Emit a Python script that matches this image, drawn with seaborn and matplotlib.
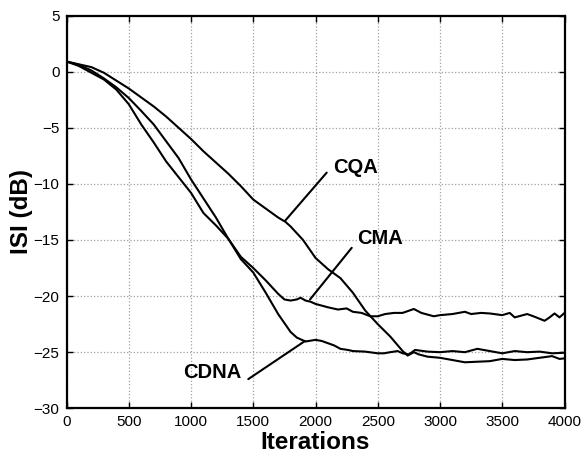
import matplotlib
matplotlib.use("Agg")
import matplotlib.pyplot as plt
import pandas as pd
import seaborn as sns

# ISI convergence curves
cqa_iter = [0, 100, 200, 300, 400, 500, 600, 700, 800, 900, 1000, 1100, 1200,
            1300, 1400, 1500, 1600, 1700, 1760, 1800, 1900, 2000, 2100, 2200,
            2300, 2400, 2500, 2600, 2700, 2740, 2790, 2830, 2900, 3000, 3100,
            3200, 3300, 3400, 3500, 3600, 3700, 3800, 3900, 3960, 4000]
cqa_isi = [0.9, 0.65, 0.4, -0.1, -0.8, -1.5, -2.3, -3.1, -4.0, -5.0, -6.0, -7.1,
           -8.1, -9.1, -10.2, -11.4, -12.2, -13.0, -13.4, -13.8, -15.0, -16.6,
           -17.6, -18.4, -19.7, -21.3, -22.5, -23.6, -24.9, -25.3, -25.0,
           -25.2, -25.4, -25.5, -25.7, -25.9, -25.85, -25.8, -25.6, -25.7,
           -25.65, -25.5, -25.35, -25.6, -25.55]

cma_iter = [0, 100, 200, 300, 400, 500, 600, 700, 800, 900, 1000, 1100, 1200,
            1300, 1400, 1500, 1600, 1700, 1750, 1800, 1850, 1880, 1920, 1960,
            2000, 2100, 2180, 2250, 2300, 2370, 2440, 2500, 2560, 2630, 2700,
            2790, 2850, 2950, 3000, 3100, 3200, 3250, 3330, 3400, 3500, 3560,
            3600, 3700, 3750, 3840, 3880, 3920, 3960, 4000]
cma_isi = [0.9, 0.5, -0.1, -0.7, -1.6, -2.9, -4.7, -6.3, -8.0, -9.4, -10.8,
           -12.6, -13.7, -14.9, -16.5, -17.5, -18.6, -19.8, -20.3, -20.4,
           -20.3, -20.15, -20.4, -20.5, -20.7, -21.0, -21.2, -21.1, -21.4,
           -21.5, -21.8, -21.8, -21.6, -21.5, -21.5, -21.15, -21.5, -21.8,
           -21.7, -21.6, -21.4, -21.6, -21.5, -21.55, -21.7, -21.5, -21.9,
           -21.6, -21.8, -22.2, -21.9, -21.55, -21.9, -21.5]

cdna_iter = [0, 100, 200, 300, 400, 500, 600, 700, 800, 900, 1000, 1100, 1200,
             1300, 1400, 1500, 1600, 1700, 1800, 1850, 1920, 2000, 2050, 2100,
             2150, 2200, 2260, 2300, 2400, 2500, 2550, 2600, 2660, 2700, 2750,
             2800, 2900, 3000, 3100, 3200, 3300, 3400, 3500, 3600, 3700, 3800,
             3900, 4000]
cdna_isi = [0.9, 0.6, 0.1, -0.6, -1.4, -2.35, -3.5, -4.7, -6.2, -7.7, -9.6,
            -11.3, -13.0, -14.9, -16.7, -17.9, -19.7, -21.6, -23.2, -23.7,
            -24.05, -23.9, -24.0, -24.2, -24.4, -24.7, -24.8, -24.9, -24.95,
            -25.1, -25.1, -25.0, -24.9, -25.1, -25.2, -24.8, -24.95, -25.0,
            -24.9, -25.0, -24.7, -24.9, -25.1, -24.9, -25.0, -24.95, -25.1,
            -25.05]

x_ticks = [0, 500, 1000, 1500, 2000, 2500, 3000, 3500, 4000]
y_ticks = [5, 0, -5, -10, -15, -20, -25, -30]

sns.set_theme(style="ticks")
plt.rcParams["font.family"] = ["Liberation Sans", "DejaVu Sans"]
plt.rcParams["text.color"] = "black"
plt.rcParams["axes.labelcolor"] = "black"
plt.rcParams["xtick.color"] = "black"
plt.rcParams["ytick.color"] = "black"

df = pd.concat([
    pd.DataFrame({"iter": cqa_iter, "isi": cqa_isi, "alg": "CQA"}),
    pd.DataFrame({"iter": cma_iter, "isi": cma_isi, "alg": "CMA"}),
    pd.DataFrame({"iter": cdna_iter, "isi": cdna_isi, "alg": "CDNA"}),
])

fig = plt.figure(figsize=(5.82, 4.54), dpi=100)
ax = fig.add_axes([66.5 / 582, 1 - 408.3 / 454, 498 / 582, 392.8 / 454])

sns.lineplot(data=df, x="iter", y="isi", units="alg", estimator=None,
             color="black", linewidth=1.5, sort=False, ax=ax)

ax.set_xlim(0, 4000)
ax.set_ylim(-30, 5)
ax.set_xticks(x_ticks)
ax.set_yticks(y_ticks)
ax.tick_params(direction="in", length=4, width=1, labelsize=11,
               top=True, right=True, colors="black", labelcolor="black", pad=5)
ax.grid(True, linestyle=":", color="#a0a0a0", linewidth=0.9)
for sp in ax.spines.values():
    sp.set_visible(True)
    sp.set_linewidth(1.6)
    sp.set_color("black")

ax.set_xlabel("Iterations", fontsize=17.5, fontweight="bold", labelpad=1,
              color="black")
ax.set_ylabel("ISI (dB)", fontsize=17.5, fontweight="bold", labelpad=0.5,
              color="black")

# labels with leader lines
line_kw = dict(arrowstyle="-", color="black", lw=1.5, shrinkA=0, shrinkB=0)
txt_kw = dict(fontsize=14.5, fontweight="bold", va="center", color="black")
ax.annotate("", xy=(1755, -13.3), xytext=(2090, -9.0), arrowprops=line_kw)
ax.text(2141, -8.5, "CQA", ha="left", **txt_kw)
ax.annotate("", xy=(1956, -20.3), xytext=(2291, -15.7), arrowprops=line_kw)
ax.text(2331, -14.9, "CMA", ha="left", **txt_kw)
ax.annotate("", xy=(1916, -24.0), xytext=(1460, -27.4), arrowprops=line_kw)
ax.text(1407, -26.8, "CDNA", ha="right", **txt_kw)

fig.savefig("out.png", dpi=100)
